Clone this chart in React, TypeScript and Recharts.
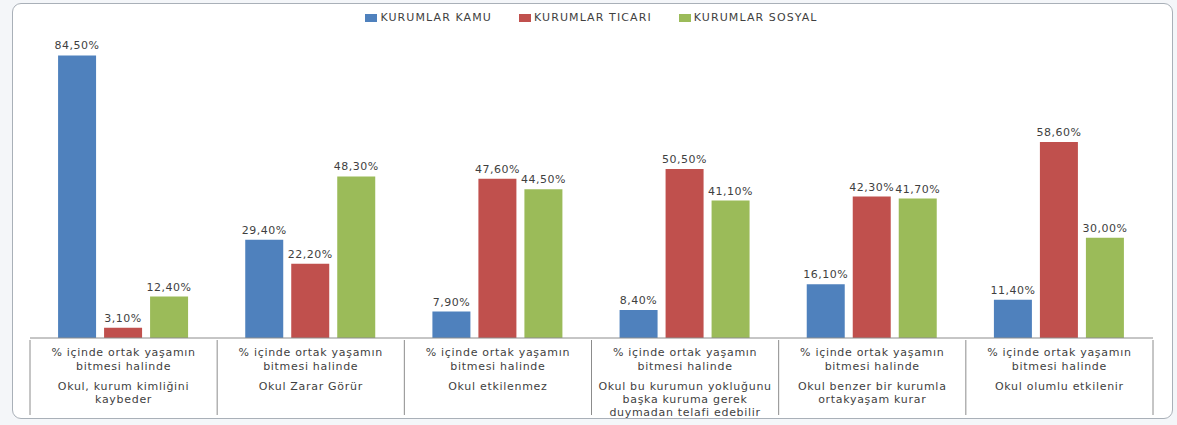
import React from 'react';
import { BarChart, Bar, XAxis, YAxis, Legend, LabelList } from 'recharts';

const categories = ['kimlik', 'zarar', 'etkilenmez', 'telafi', 'ortakyasam', 'olumlu'];
const categoryLines = [
  ['Okul, kurum kimliğini', 'kaybeder'],
  ['Okul Zarar Görür'],
  ['Okul etkilenmez'],
  ['Okul bu kurumun yokluğunu', 'başka kuruma gerek', 'duymadan telafi edebilir'],
  ['Okul benzer bir kurumla', 'ortakyaşam kurar'],
  ['Okul olumlu etkilenir'],
];
const groupLines = ['% içinde ortak yaşamın', 'bitmesi halinde'];
const kamu = [84.5, 29.4, 7.9, 8.4, 16.1, 11.4];
const ticari = [3.1, 22.2, 47.6, 50.5, 42.3, 58.6];
const sosyal = [12.4, 48.3, 44.5, 41.1, 41.7, 30.0];

const data = categories.map((c, i) => ({
  name: c,
  kamu: kamu[i],
  ticari: ticari[i],
  sosyal: sosyal[i],
}));

const series = [
  { key: 'kamu', label: 'KURUMLAR KAMU', color: '#4F81BD' },
  { key: 'ticari', label: 'KURUMLAR TICARI', color: '#C0504D' },
  { key: 'sosyal', label: 'KURUMLAR SOSYAL', color: '#9BBB59' },
];

const FONT = 'DejaVu Sans, Verdana, sans-serif';
const TEXT = '#3f3f3f';

const fmt = (v: number) => v.toFixed(2).replace('.', ',') + '%';

const CategoryTick = (props: any) => {
  const { x, y, payload, index } = props;
  const half = payload.offset || 0;
  const names = categoryLines[index] || [];
  const last = index === categories.length - 1;
  return (
    <g>
      <line x1={x - half} x2={x - half} y1={y} y2={y + 75} stroke="#8c8c8c" />
      {last && <line x1={x + half} x2={x + half} y1={y} y2={y + 75} stroke="#8c8c8c" />}
      {groupLines.map((t, i) => (
        <text key={`g-${i}`} x={x} y={y + 16 + i * 14} textAnchor="middle" fontSize={11} letterSpacing={0.7} fill={TEXT} fontFamily={FONT}>
          {t}
        </text>
      ))}
      {names.map((t, i) => (
        <text key={`n-${i}`} x={x} y={y + 50 + i * 13} textAnchor="middle" fontSize={11} letterSpacing={0.7} fill={TEXT} fontFamily={FONT}>
          {t}
        </text>
      ))}
    </g>
  );
};

const LegendContent = () => (
  <div style={{ display: 'flex', justifyContent: 'center', gap: 27, fontFamily: FONT, fontSize: 11, color: TEXT }}>
    {series.map((s) => (
      <div key={s.key} style={{ display: 'flex', alignItems: 'center', letterSpacing: 1.1 }}>
        <span style={{ width: 12, height: 8, background: s.color, marginRight: 3, display: 'inline-block' }} />
        {s.label}
      </div>
    ))}
  </div>
);

export default function App() {
  return (
    <div style={{ position: 'absolute', left: 0, top: 0, width: 1177, height: 425, background: '#f4f6f9' }}>
      <div
        style={{
          position: 'absolute',
          left: 12,
          top: 3,
          width: 1159,
          height: 414,
          background: '#fff',
          border: '1px solid #a9b0b8',
          borderRadius: 9,
        }}
      >
        <BarChart
          width={1159}
          height={414}
          data={data}
          margin={{ top: 7, right: 19, left: 17, bottom: 2 }}
          barCategoryGap="15%"
          barGap={8}
        >
          <Legend verticalAlign="top" height={26} content={<LegendContent />} />
          <XAxis
            dataKey="name"
            tickSize={0}
            tickLine={false}
            interval={0}
            height={78}
            axisLine={{ stroke: '#8c8c8c' }}
            tick={<CategoryTick />}
          />
          <YAxis hide domain={[0, 90]} />
          {series.map((s) => (
            <Bar key={s.key} dataKey={s.key} name={s.label} fill={s.color} isAnimationActive={false}>
              <LabelList
                dataKey={s.key}
                position="top"
                offset={6}
                formatter={(v: any) => fmt(Number(v))}
                style={{ fontSize: 11, fill: TEXT, fontFamily: FONT, letterSpacing: 0.5 }}
              />
            </Bar>
          ))}
        </BarChart>
      </div>
    </div>
  );
}
